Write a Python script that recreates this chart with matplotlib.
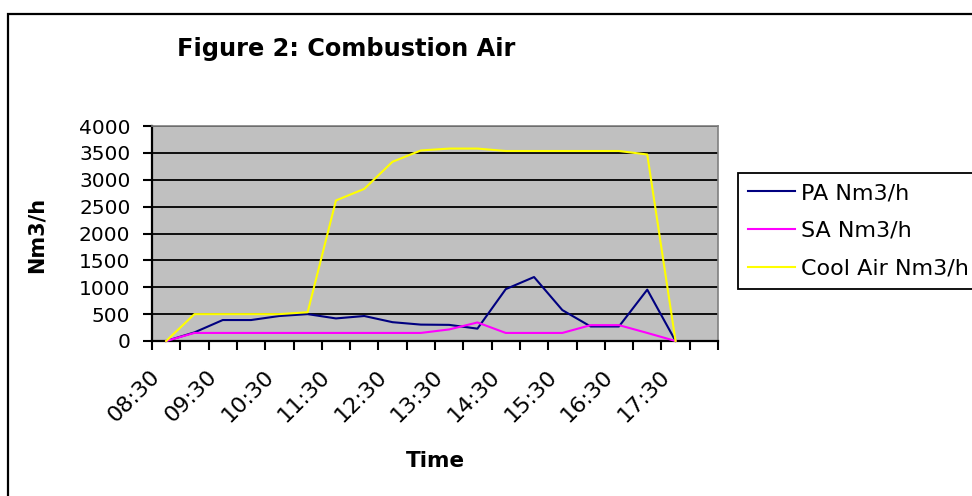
import matplotlib
matplotlib.use("Agg")
import matplotlib.pyplot as plt
import matplotlib.transforms as mtransforms
from matplotlib.patches import Rectangle
import numpy as np

plt.rcParams['font.family'] = ['DejaVu Sans']

# ---- data ----
categories = ['08:30', '09:00', '09:30', '10:00', '10:30', '11:00', '11:30', '12:00',
              '12:30', '13:00', '13:30', '14:00', '14:30', '15:00', '15:30', '16:00',
              '16:30', '17:00', '17:30', '18:00']
pa_values = [0, 160, 390, 390, 465, 500, 420, 465, 350, 305, 300, 230, 965, 1190, 575, 270, 270, 955, 0]
sa_values = [0, 150, 150, 150, 150, 150, 150, 150, 150, 150, 215, 345, 150, 150, 150, 295, 295, 150, 0]
cool_values = [0, 500, 500, 500, 500, 535, 2615, 2830, 3335, 3545, 3580, 3580, 3535, 3535, 3535,
               3535, 3535, 3470, 0]
series_names = ['PA Nm3/h', 'SA Nm3/h', 'Cool Air Nm3/h']
series_colors = ['#000080', '#FF00FF', '#FFFF00']
y_ticks = [0, 500, 1000, 1500, 2000, 2500, 3000, 3500, 4000]

W, H = 972, 496
fig = plt.figure(figsize=(W / 100, H / 100), dpi=100)
ax = fig.add_axes([152 / W, 1 - 341 / H, (718 - 152) / W, (341 - 126) / H])
ax.set_facecolor('#C0C0C0')

x = np.arange(len(pa_values))
for vals, name, col in zip([pa_values, sa_values, cool_values], series_names, series_colors):
    ax.plot(x, vals, color=col, lw=1.5, label=name, zorder=3, clip_on=False)

ax.set_xlim(-0.5, len(categories) - 0.5)
ax.set_ylim(y_ticks[0], y_ticks[-1])
ax.set_yticks(y_ticks)
ax.set_yticklabels([str(v) for v in y_ticks])
ax.yaxis.grid(True, color='black', lw=1.3, zorder=1)
ax.set_axisbelow(True)

# x: minor ticks at category boundaries, labels every other category
ax.set_xticks(np.arange(-0.5, len(categories), 1.0), minor=True)
major_idx = [i for i in range(0, len(categories), 2) if i < len(pa_values)]
ax.set_xticks(major_idx)
ax.set_xticklabels([categories[i] for i in major_idx], rotation=45, ha='right', va='center',
                   rotation_mode='anchor', fontsize=16)
ax.tick_params(axis='x', which='major', length=0, pad=23)
ax.tick_params(axis='x', which='minor', length=6.5, width=1.5, direction='out', color='black')
ax.tick_params(axis='y', which='major', length=6.5, width=1.5, direction='out', labelsize=14.5, pad=9)
offset = mtransforms.ScaledTranslation(-9 / 100, 0, fig.dpi_scale_trans)
for lbl in ax.get_xticklabels():
    lbl.set_transform(lbl.get_transform() + offset)

for s in ['left', 'bottom']:
    ax.spines[s].set_color('black')
    ax.spines[s].set_linewidth(1.6)
for s in ['top', 'right']:
    ax.spines[s].set_color('#808080')
    ax.spines[s].set_linewidth(1.2)

ax.set_ylabel('Nm3/h', fontsize=15, fontweight='bold')
ax.yaxis.set_label_coords(47 / W, 1 - 235 / H, transform=fig.transFigure)
fig.text(435 / W, 1 - 461 / H, 'Time', fontsize=15.5, fontweight='bold', ha='center', va='center')
fig.text(346 / W, 1 - 49 / H, 'Figure 2: Combustion Air', fontsize=17.3, fontweight='bold',
         ha='center', va='center')

leg = fig.legend(loc='upper left', bbox_to_anchor=(738 / W, 1 - 173 / H), borderaxespad=0,
                 fontsize=16, frameon=True, fancybox=False, handlelength=2.1, handletextpad=0.3,
                 borderpad=0.45, labelspacing=0.8)
leg.get_frame().set_edgecolor('black')
leg.get_frame().set_linewidth(1.3)
leg.get_frame().set_facecolor('white')
leg.get_frame().set_alpha(1)

# outer chart border (extends beyond right and bottom edges)
fig.patches.append(Rectangle((8 / W, -0.2), 1.5, 1 - 14 / H + 0.2, transform=fig.transFigure,
                             fill=False, edgecolor='black', lw=1.6, zorder=0))

fig.savefig('out.png', dpi=100)
